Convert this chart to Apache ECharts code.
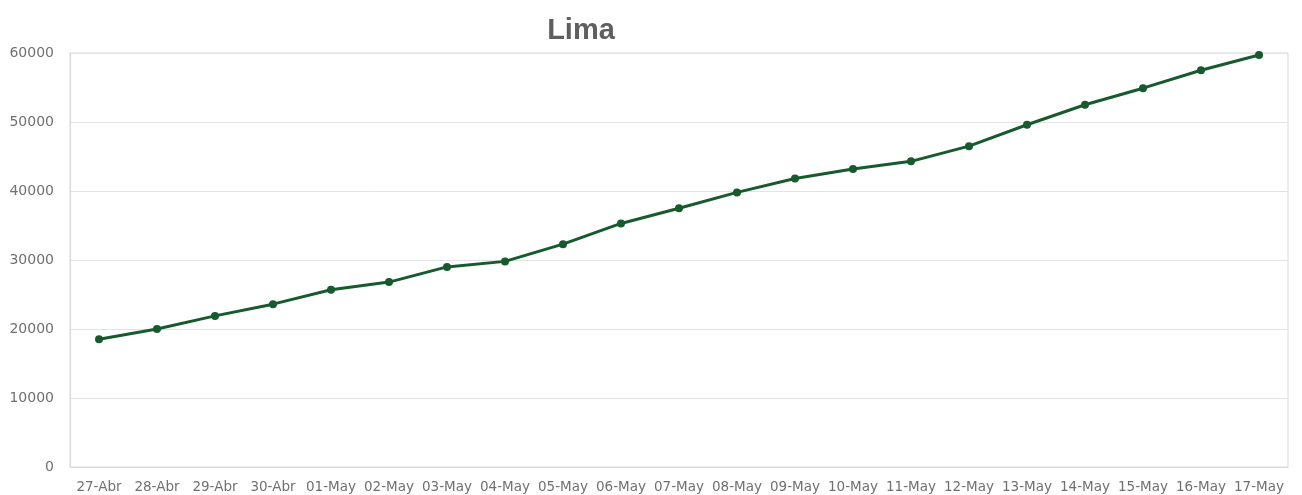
<!DOCTYPE html>
<html>
<head>
<meta charset="utf-8">
<script src="https://cdn.jsdelivr.net/npm/echarts@6/dist/echarts.min.js"></script>
<style>
  html, body { margin: 0; padding: 0; background: #fff; }
  #chart { width: 1302px; height: 495px; }
</style>
</head>
<body>
<div id="chart"></div>
<script>
// Data
const dates = ['27-Abr', '28-Abr', '29-Abr', '30-Abr', '01-May', '02-May', '03-May', '04-May',
    '05-May', '06-May', '07-May', '08-May', '09-May', '10-May', '11-May', '12-May',
    '13-May', '14-May', '15-May', '16-May', '17-May'];
const cases = [18500, 20000, 21900, 23600, 25700, 26800, 29000, 29800,
    32300, 35300, 37500, 39800, 41800, 43200, 44300, 46500,
    49600, 52500, 54900, 57500, 59700];
const yTicks = { min: 0, max: 60000, interval: 10000 };

const chart = echarts.init(document.getElementById('chart'));

const labelColor = '#707070';
const gridColor = '#d9d9d9';

chart.setOption({
    animation: false,
    title: {
        text: 'Lima',
        left: 576,
        top: 11,
        textAlign: 'center',
        textStyle: {
            fontFamily: 'Liberation Sans',
            fontSize: 29,
            fontWeight: 'bold',
            color: '#5f5f5f'
        }
    },
    grid: {
        left: 70,
        right: 14,
        top: 53,
        bottom: 28,
        show: true,
        borderColor: gridColor,
        borderWidth: 1
    },
    xAxis: {
        type: 'category',
        data: dates,
        boundaryGap: true,
        axisLine: { show: true, lineStyle: { color: gridColor } },
        axisTick: { show: false },
        axisLabel: {
            interval: 0,
            margin: 13,
            fontFamily: 'DejaVu Sans',
            fontSize: 13.5,
            color: labelColor
        },
        splitLine: { show: false }
    },
    yAxis: {
        type: 'value',
        min: yTicks.min,
        max: yTicks.max,
        interval: yTicks.interval,
        axisLine: { show: true, lineStyle: { color: gridColor } },
        axisTick: { show: false },
        axisLabel: {
            margin: 16,
            fontFamily: 'DejaVu Sans',
            fontSize: 14,
            color: labelColor,
            formatter: v => String(v)
        },
        splitLine: { show: true, lineStyle: { color: '#e3e3e3', width: 1 } }
    },
    series: [{
        name: 'Lima',
        type: 'line',
        data: cases,
        symbol: 'circle',
        symbolSize: 8,
        lineStyle: { color: '#175a2e', width: 3 },
        itemStyle: { color: '#175a2e' }
    }]
});
</script>
</body>
</html>
